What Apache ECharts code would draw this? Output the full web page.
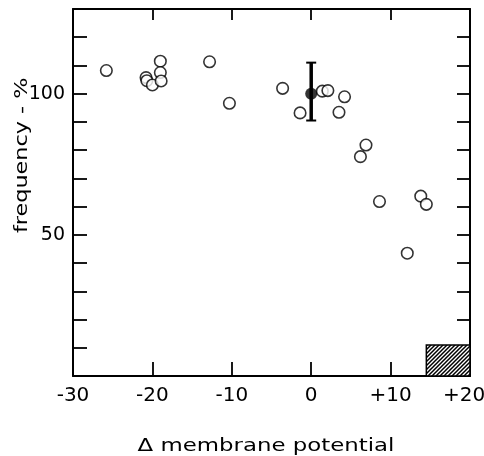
<!DOCTYPE html>
<html>
<head>
<meta charset="utf-8">
<script src="https://cdn.jsdelivr.net/npm/echarts@6/dist/echarts.min.js"></script>
<style>
  html, body { margin: 0; padding: 0; background: #fff; }
  #main { width: 484px; height: 456px; }
</style>
</head>
<body>
<div id="main"></div>
<script>
// open circles: change in membrane potential vs frequency (%)
var potX = [-25.8, -20.8, -20.7, -20.0, -19.0, -19.0, -18.9, -12.8, -10.3, -3.6, -1.4,
            1.4, 2.1, 4.2, 3.5, 6.9, 6.2, 8.6, 13.8, 14.5, 12.1];
var freqY = [108.2, 105.7, 104.6, 103.1, 111.5, 107.5, 104.5, 111.3, 96.6, 101.9, 93.2,
             100.9, 101.1, 98.9, 93.4, 81.8, 77.7, 61.8, 63.7, 60.8, 43.5];
// control mean with error bar
var meanPoint = [0, 100];
var meanRange = [90.5, 111];
// hatched block [x0, x1, y0, y1]
var hatchBox = [14.5, 20, 0, 11];
var xTicks = ['-30', '-20', '-10', '0', '+10', '+20'];
var yLabeled = [50, 100];

var pts = potX.map(function (x, i) { return [x, freqY[i]]; });

// diagonal hatch pattern
var pc = document.createElement('canvas');
pc.width = 4; pc.height = 4;
var pctx = pc.getContext('2d');
pctx.fillStyle = '#fff';
pctx.fillRect(0, 0, 4, 4);
pctx.strokeStyle = '#000';
pctx.lineWidth = 1.5;
pctx.beginPath();
pctx.moveTo(0, 4); pctx.lineTo(4, 0);
pctx.moveTo(-1, 1); pctx.lineTo(1, -1);
pctx.moveTo(3, 5); pctx.lineTo(5, 3);
pctx.stroke();

var font = 'DejaVu Sans';
var black = '#000';
var chart = echarts.init(document.getElementById('main'));

function boxAxisLine() {
  return { show: true, onZero: false, lineStyle: { color: black, width: 2 } };
}
function innerTicks(len) {
  return { show: true, inside: true, length: len, lineStyle: { color: black, width: 1.8 } };
}

chart.setOption({
  animation: false,
  grid: { left: 73, right: 14, top: 9, bottom: 80, outerBoundsMode: 'none', containLabel: false },
  graphic: [{
    type: 'text',
    x: 13, y: 233,
    rotation: Math.PI / 2,
    scaleX: 1.24,
    style: { text: 'frequency - %', font: '18px "' + font + '"', fill: black }
  }, {
    type: 'text',
    x: 266, y: 446,
    scaleX: 1.27,
    style: {
      text: 'Δ membrane potential', font: '18px "' + font + '"', fill: black,
      align: 'center', verticalAlign: 'middle'
    }
  }],
  xAxis: [{
    type: 'value', min: -30, max: 20, interval: 10,
    axisLine: boxAxisLine(),
    axisTick: innerTicks(14),
    axisLabel: {
      margin: 10, color: black, fontFamily: font, fontSize: 20,
      formatter: function (v) {
        var s = xTicks[(v + 30) / 10];
        return v === 20 ? '{edge|' + s + '}' : s;
      },
      rich: { edge: { fontFamily: font, fontSize: 20, color: black, padding: [0, 12, 0, 0] } }
    },
    splitLine: { show: false }
  }, {
    type: 'value', min: -30, max: 20, interval: 10, position: 'top',
    axisLine: boxAxisLine(),
    axisTick: innerTicks(11),
    axisLabel: { show: false },
    splitLine: { show: false }
  }],
  yAxis: [{
    type: 'value', min: 0, max: 130, interval: 10,
    axisLine: boxAxisLine(),
    axisTick: innerTicks(14),
    axisLabel: {
      margin: 8, color: black, fontFamily: font, fontSize: 19,
      formatter: function (v) { return yLabeled.indexOf(v) >= 0 ? String(v) : ''; }
    },
    splitLine: { show: false }
  }, {
    type: 'value', min: 0, max: 130, interval: 10, position: 'right',
    axisLine: boxAxisLine(),
    axisTick: innerTicks(13),
    axisLabel: { show: false },
    splitLine: { show: false }
  }],
  series: [{
    type: 'custom',
    renderItem: function (params, api) {
      var p0 = api.coord([api.value(0), api.value(3)]);
      var p1 = api.coord([api.value(1), api.value(2)]);
      return {
        type: 'rect',
        shape: { x: p0[0], y: p0[1], width: p1[0] - p0[0], height: p1[1] - p0[1] },
        style: { fill: { image: pc, repeat: 'repeat' }, stroke: black, lineWidth: 1.5 }
      };
    },
    data: [hatchBox],
    z: 1
  }, {
    type: 'scatter',
    data: pts,
    symbol: 'circle',
    symbolSize: 11.5,
    itemStyle: { color: '#fff', borderColor: black, borderWidth: 1.6 },
    z: 3
  }, {
    type: 'custom',
    renderItem: function (params, api) {
      var x = api.value(0);
      var top = api.coord([x, api.value(2)]);
      var bot = api.coord([x, api.value(1)]);
      return {
        type: 'group',
        children: [
          { type: 'line', shape: { x1: top[0], y1: top[1], x2: bot[0], y2: bot[1] }, style: { stroke: black, lineWidth: 3.5 } },
          { type: 'line', shape: { x1: top[0] - 5, y1: top[1], x2: top[0] + 5, y2: top[1] }, style: { stroke: black, lineWidth: 2 } },
          { type: 'line', shape: { x1: bot[0] - 5, y1: bot[1], x2: bot[0] + 5, y2: bot[1] }, style: { stroke: black, lineWidth: 2 } }
        ]
      };
    },
    data: [[meanPoint[0], meanRange[0], meanRange[1]]],
    z: 4
  }, {
    type: 'scatter',
    data: [meanPoint],
    symbol: 'circle',
    symbolSize: 12,
    itemStyle: { color: black },
    z: 5
  }]
});
</script>
</body>
</html>
